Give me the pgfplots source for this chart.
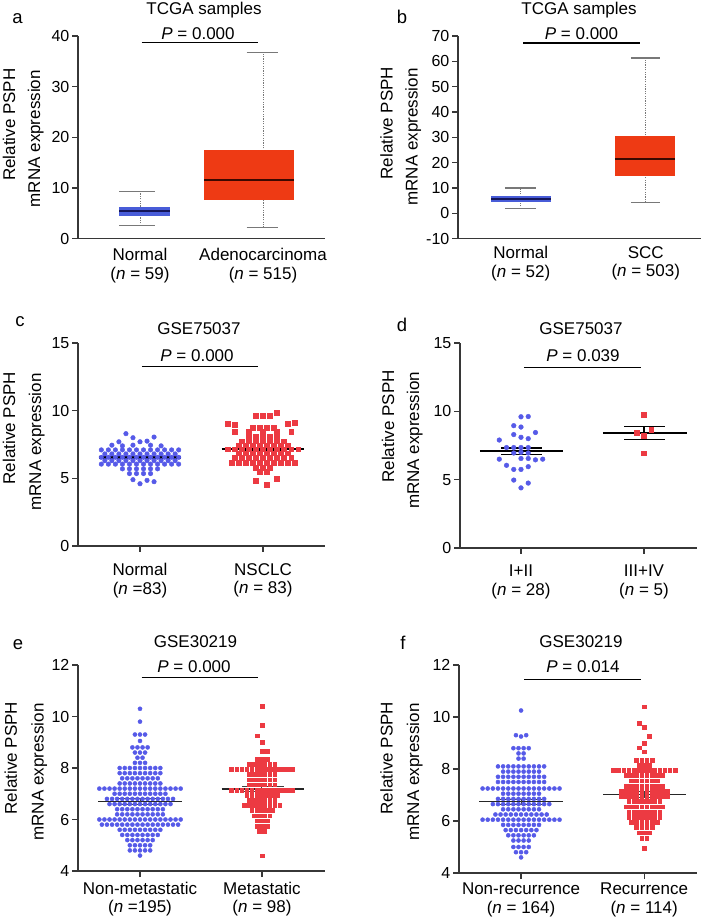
\documentclass[border=0pt]{standalone}
\usepackage{fontspec}
\setmainfont{Liberation Sans}
\usepackage{pgfplots}
\pgfplotsset{compat=1.18}
\definecolor{ptblue}{RGB}{86,90,232}
\definecolor{ptred}{RGB}{236,58,66}
\definecolor{boxblue}{RGB}{72,92,216}
\definecolor{boxred}{RGB}{238,58,20}
\definecolor{medblue}{RGB}{20,22,90}
\definecolor{medred}{RGB}{60,8,0}
\definecolor{axgray}{RGB}{55,55,55}
\definecolor{whgray}{RGB}{120,120,120}
\newcommand\labfont{\fontsize{17}{18.5}\selectfont}
\newcommand\tickfont{\fontsize{16}{18}\selectfont}
\newcommand\letfont{\fontsize{18.5}{20}\selectfont}
\pgfplotsset{
  panel/.style={
    scale only axis,
    anchor=south west,
    axis x line*=bottom,
    axis y line*=left,
    axis line style={line width=1.3pt, draw=axgray, -},
    tick style={line width=1.2pt, draw=axgray},
    tick align=outside,
    major tick length=6pt,
    yticklabel style={font=\tickfont, inner sep=2.5pt},
    xticklabel style={font=\labfont, align=center, inner sep=0pt, anchor=north},
    /pgf/number format/assume math mode=true,
    clip=false,
  },
  bci/.style={only marks, color=ptblue, mark=*, mark size=#1, mark options={solid, fill=ptblue, draw=none}},
  rsq/.style={only marks, color=ptred, mark=square*, mark size=#1, mark options={solid, fill=ptred, draw=none}},
}
\begin{document}
\begin{tikzpicture}[x=1pt,y=1pt]
\path[use as bounding box] (0,0) rectangle (709,917);

% ---------------- panel a ----------------
\begin{axis}[panel, at={(78pt,678.3pt)}, width=247pt, height=202.7pt,
  xmin=-0.504, xmax=1.504, ymin=0, ymax=40, ytick={0,10,20,30,40},
  xtick={0,1}, x tick style={draw=none},
  xticklabels={Normal\\(\textit{n} = 59), Adenocarcinoma\\(\textit{n} = 515)},
  xticklabel style={yshift=-3.6pt}]
\addplot[whgray, line width=0.9pt, dash pattern=on 1.2pt off 1.2pt] coordinates {(0,2.56) (0,9.4)};
\addplot[whgray, line width=1.1pt] coordinates {(-0.168,9.4) (0.122,9.4)};
\addplot[whgray, line width=1.1pt] coordinates {(-0.168,2.56) (0.122,2.56)};
\addplot[fill=boxblue, draw=none] coordinates {(-0.168,4.55) (0.244,4.55) (0.244,6.3) (-0.168,6.3)} --cycle;
\addplot[medblue, line width=2pt] coordinates {(-0.168,5.4) (0.244,5.4)};
\addplot[whgray, line width=0.9pt, dash pattern=on 1.2pt off 1.2pt] coordinates {(1,2.2) (1,36.8)};
\addplot[whgray, line width=1.1pt] coordinates {(0.867,36.8) (1.124,36.8)};
\addplot[whgray, line width=1.1pt] coordinates {(0.867,2.2) (1.124,2.2)};
\addplot[fill=boxred, draw=none] coordinates {(0.520,7.63) (1.252,7.63) (1.252,17.5) (0.520,17.5)} --cycle;
\addplot[medred, line width=2pt] coordinates {(0.520,11.6) (1.252,11.6)};
\addplot[black, line width=1.8pt] coordinates {(0.014,38.7) (0.962,38.7)};
\end{axis}

% ---------------- panel b ----------------
\begin{axis}[panel, at={(458pt,678.3pt)}, width=243pt, height=202.7pt,
  xmin=-0.502, xmax=1.442, ymin=-10, ymax=70, ytick={-10,0,10,20,30,40,50,60,70},
  xtick={0,1}, x tick style={draw=none},
  xticklabels={Normal\\(\textit{n} = 52), SCC\\(\textit{n} = 503)},
  xticklabel style={yshift=-1.7pt}]
\addplot[whgray, line width=0.9pt, dash pattern=on 1.2pt off 1.2pt] coordinates {(0,1.8) (0,10.0)};
\addplot[whgray, line width=1.1pt] coordinates {(-0.128,10.0) (0.12,10.0)};
\addplot[whgray, line width=1.1pt] coordinates {(-0.128,1.8) (0.12,1.8)};
\addplot[fill=boxblue, draw=none] coordinates {(-0.235,4.45) (0.24,4.45) (0.24,6.7) (-0.235,6.7)} --cycle;
\addplot[medblue, line width=2pt] coordinates {(-0.235,5.6) (0.24,5.6)};
\addplot[whgray, line width=0.9pt, dash pattern=on 1.2pt off 1.2pt] coordinates {(1,4.3) (1,61.3)};
\addplot[whgray, line width=1.1pt] coordinates {(0.88,61.3) (1.114,61.3)};
\addplot[whgray, line width=1.1pt] coordinates {(0.88,4.3) (1.114,4.3)};
\addplot[fill=boxred, draw=none] coordinates {(0.752,14.6) (1.232,14.6) (1.232,30.6) (0.752,30.6)} --cycle;
\addplot[medred, line width=2pt] coordinates {(0.752,21.5) (1.232,21.5)};
\addplot[black, line width=1.8pt] coordinates {(0.02,67.36) (0.954,67.36)};
\end{axis}

% ---------------- panel c ----------------
\begin{axis}[panel, at={(78pt,371pt)}, width=247pt, height=203pt,
  xmin=-8.82, xmax=26.32, ymin=0, ymax=15, ytick={0,5,10,15},
  xtick={0,17.5},
  xticklabels={Normal\\(\textit{n} =83), NSCLC\\(\textit{n} = 83)},
  xticklabel style={yshift=-11pt}]
\addplot[bci=2.3pt] coordinates {
(-2,8.3) (-1,8.0) (2,8.05) (-3,7.7) (0,7.7) (1,7.75)
(-4,7.45) (-2.5,7.4) (-1,7.45) (1.5,7.45) (3,7.4)
(-5.5,7.1) (-4.5,7.1) (-3.5,7.1) (-2.5,7.1) (-1.5,7.1) (-0.5,7.1) (0.5,7.1) (1.5,7.1) (2.5,7.1) (3.5,7.1) (4.5,7.1) (5.5,7.1)
(-5,6.8) (-4,6.8) (-3,6.8) (-2,6.8) (-1,6.8) (0,6.8) (1,6.8) (2,6.8) (3,6.8) (4,6.8) (5,6.8)
(-5.5,6.55) (-4.5,6.55) (-3.5,6.55) (-2.5,6.55) (-1.5,6.55) (-0.5,6.55) (0.5,6.55) (1.5,6.55) (2.5,6.55) (3.5,6.55) (4.5,6.55) (5.5,6.55)
(-5,6.3) (-4,6.3) (-3,6.3) (-2,6.3) (-1,6.3) (0,6.3) (1,6.3) (2,6.3) (3,6.3) (4,6.3) (5,6.3)
(-5.5,6.05) (-4.5,6.05) (-3.5,6.05) (-2.5,6.05) (-1.5,6.05) (-0.5,6.05) (0.5,6.05) (1.5,6.05) (2.5,6.05) (3.5,6.05) (4.5,6.05) (5.5,6.05)
(-2.5,5.7) (-1.5,5.7) (-0.5,5.7) (0.5,5.7) (1.5,5.7) (2.5,5.7)
(-1.5,5.35) (-0.5,5.35) (0.5,5.35) (1.5,5.35)
(-1,4.9) (1,4.85) (0,4.6) (2,4.75)
};
\addplot[rsq=2.4pt] coordinates {
(19.5,9.85) (16.5,9.6) (17.5,9.6) (18.5,9.6)
(12.5,9.05) (13.5,8.95) (21,9.05) (22,9.1)
(16,8.75) (17,8.75) (18,8.75) (19,8.75)
(13.5,8.45) (15.5,8.45) (17.5,8.45) (19.5,8.45) (21.5,8.45)
(15.5,8.1) (16.5,8.1) (17.5,8.1) (18.5,8.1) (19.5,8.1)
(14.5,7.75) (15.5,7.75) (16.5,7.75) (17.5,7.75) (18.5,7.75) (19.5,7.75) (20.5,7.75)
(14,7.45) (15,7.45) (16,7.45) (17,7.45) (18,7.45) (19,7.45) (20,7.45) (21,7.45)
(12.5,7.15) (13.5,7.15) (14.5,7.15) (15.5,7.15) (16.5,7.15) (17.5,7.15) (18.5,7.15) (19.5,7.15) (20.5,7.15) (21.5,7.15) (22.5,7.15)
(14,6.85) (15,6.85) (16,6.85) (17,6.85) (18,6.85) (19,6.85) (20,6.85) (21,6.85)
(13.5,6.55) (14.5,6.55) (15.5,6.55) (16.5,6.55) (17.5,6.55) (18.5,6.55) (19.5,6.55) (20.5,6.55) (21.5,6.55)
(13,6.15) (14,6.15) (15,6.15) (16,6.15) (17,6.15) (18,6.15) (19,6.15) (20,6.15) (21,6.15) (22,6.15)
(16.5,5.8) (17.5,5.8) (18.5,5.8) (17,5.5) (18,5.5)
(16.5,4.85) (19.5,5.0) (18,4.55)
};
\addplot[black, line width=2.4pt] coordinates {(-5.9,6.55) (5.9,6.55)};
\addplot[black, line width=1.1pt] coordinates {(-2.9,6.62) (2.9,6.62)};
\addplot[black, line width=1.1pt] coordinates {(-2.9,6.48) (2.9,6.48)};
\addplot[black, line width=2.4pt] coordinates {(11.6,7.15) (23.4,7.15)};
\addplot[black, line width=1.1pt] coordinates {(14.6,7.28) (20.4,7.28)};
\addplot[black, line width=1.1pt] coordinates {(14.6,7.02) (20.4,7.02)};
\addplot[black, line width=1.1pt] coordinates {(17.5,7.02) (17.5,7.28)};
\addplot[black, line width=1.3pt] coordinates {(0.28,13.25) (16.8,13.25)};
\end{axis}

% ---------------- panel d ----------------
\begin{axis}[panel, at={(460pt,369pt)}, width=237pt, height=205pt,
  xmin=-8.43, xmax=24.33, ymin=0, ymax=15, ytick={0,5,10,15},
  xtick={0,17},
  xticklabels={I+II\\(\textit{n} = 28), III+IV\\(\textit{n} = 5)},
  xticklabel style={yshift=-11pt}]
\addplot[bci=2.35pt] coordinates {
(0,9.6) (1,9.62) (-1,8.95) (0,8.85) (-1,8.3) (2,8.45) (0,8.1) (1,8.0) (-3,7.9)
(-2,7.35) (-1,7.35) (0,7.35) (1,7.35) (-1,6.95) (0,7.0) (1,6.95)
(-3,6.5) (0,6.55) (1,6.55) (2,6.45) (3,6.5)
(-2,6.05) (1,5.95) (-1,5.75) (0,5.75) (-1,4.97) (1,4.75) (0,4.4)
};
\addplot[rsq=2.4pt] coordinates {(17,9.78) (18,8.68) (16,8.43) (17,8.19) (17,6.93)};
\addplot[black, line width=2.4pt] coordinates {(-5.67,7.1) (5.8,7.1)};
\addplot[black, line width=1.1pt] coordinates {(-2.76,7.32) (2.9,7.32)};
\addplot[black, line width=1.1pt] coordinates {(-2.76,6.83) (2.9,6.83)};
\addplot[black, line width=1.1pt] coordinates {(0,6.83) (0,7.32)};
\addplot[black, line width=2.4pt] coordinates {(11.33,8.43) (22.94,8.43)};
\addplot[black, line width=1.1pt] coordinates {(14.24,8.92) (19.9,8.92)};
\addplot[black, line width=1.1pt] coordinates {(14.24,7.97) (19.9,7.97)};
\addplot[black, line width=1.1pt] coordinates {(17,7.97) (17,8.92)};
\addplot[black, line width=1.3pt] coordinates {(0.41,13.22) (16.54,13.22)};
\end{axis}

% ---------------- panel e ----------------
\begin{axis}[panel, at={(78pt,46pt)}, width=247pt, height=206pt,
  xmin=-12.2, xmax=36.4, ymin=4, ymax=12, ytick={4,6,8,10,12},
  xtick={0,24},
  xticklabels={Non-metastatic\\(\textit{n} =195), Metastatic\\(\textit{n} = 98)},
  xticklabel style={yshift=-4.5pt}]
\addplot[bci=2.05pt] coordinates {
(0,10.3) (0,9.8) (-1,9.3) (0,9.3) (1,9.3) (0,9.05)
(-1.5,8.8) (-0.5,8.8) (0.5,8.8) (1.5,8.8)
(-1,8.6) (0,8.6) (1,8.6)
(-0.5,8.4) (0.5,8.4)
(-1,8.2) (0,8.2) (1,8.2)
(-4,8) (-3,8) (-2,8) (-1,8) (0,8) (1,8) (2,8) (3,8) (4,8)
(-4,7.8) (-3,7.8) (-2,7.8) (-1,7.8) (0,7.8) (1,7.8) (2,7.8) (3,7.8) (4,7.8)
(-3.5,7.6) (-2.5,7.6) (-1.5,7.6) (-0.5,7.6) (0.5,7.6) (1.5,7.6) (2.5,7.6) (3.5,7.6)
(-4,7.4) (-3,7.4) (-2,7.4) (-1,7.4) (0,7.4) (1,7.4) (2,7.4) (3,7.4) (4,7.4)
(-8,7.2) (-7,7.2) (-6,7.2) (-5,7.2) (-4,7.2) (-3,7.2) (-2,7.2) (-1,7.2) (0,7.2) (1,7.2) (2,7.2) (3,7.2) (4,7.2) (5,7.2) (6,7.2) (7,7.2) (8,7.2)
(-5,7) (-4,7) (-3,7) (-2,7) (-1,7) (0,7) (1,7) (2,7) (3,7) (4,7) (5,7)
(-6.5,6.8) (-5.5,6.8) (-4.5,6.8) (-3.5,6.8) (-2.5,6.8) (-1.5,6.8) (-0.5,6.8) (0.5,6.8) (1.5,6.8) (2.5,6.8) (3.5,6.8) (4.5,6.8) (5.5,6.8) (6.5,6.8)
(-6,6.6) (-5,6.6) (-4,6.6) (-3,6.6) (-2,6.6) (-1,6.6) (0,6.6) (1,6.6) (2,6.6) (3,6.6) (4,6.6) (5,6.6) (6,6.6)
(-4.5,6.4) (-3.5,6.4) (-2.5,6.4) (-1.5,6.4) (-0.5,6.4) (0.5,6.4) (1.5,6.4) (2.5,6.4) (3.5,6.4) (4.5,6.4)
(-4.5,6.2) (-3.5,6.2) (-2.5,6.2) (-1.5,6.2) (-0.5,6.2) (0.5,6.2) (1.5,6.2) (2.5,6.2) (3.5,6.2) (4.5,6.2)
(-8,6) (-7,6) (-6,6) (-5,6) (-4,6) (-3,6) (-2,6) (-1,6) (0,6) (1,6) (2,6) (3,6) (4,6) (5,6) (6,6) (7,6) (8,6)
(-7.5,5.8) (-6.5,5.8) (-5.5,5.8) (-4.5,5.8) (-3.5,5.8) (-2.5,5.8) (-1.5,5.8) (-0.5,5.8) (0.5,5.8) (1.5,5.8) (2.5,5.8) (3.5,5.8) (4.5,5.8) (5.5,5.8) (6.5,5.8) (7.5,5.8)
(-4,5.6) (-3,5.6) (-2,5.6) (-1,5.6) (0,5.6) (1,5.6) (2,5.6) (3,5.6) (4,5.6)
(-3.5,5.4) (-2.5,5.4) (-1.5,5.4) (-0.5,5.4) (0.5,5.4) (1.5,5.4) (2.5,5.4) (3.5,5.4)
(-2.5,5.2) (-1.5,5.2) (-0.5,5.2) (0.5,5.2) (1.5,5.2) (2.5,5.2)
(-2,5) (-1,5) (0,5) (1,5) (2,5)
(-2,4.8) (-1,4.8) (0,4.8) (1,4.8) (2,4.8)
(0,4.6)
};
\addplot[rsq=1.85pt] coordinates {
(24,10.4) (24,9.65) (23,9.25) (24,9.0) (24,8.65) (25,8.65)
(23,8.35) (24,8.35) (25,8.35)
(21.5,8.15) (22.5,8.15) (23.5,8.15) (24.5,8.15) (25.5,8.15) (26.5,8.15)
(18,7.95) (19,7.95) (20,7.95) (21,7.95) (22,7.95) (23,7.95) (24,7.95) (25,7.95) (26,7.95) (27,7.95) (28,7.95) (29,7.95) (30,7.95)
(21.5,7.75) (22.5,7.75) (23.5,7.75) (24.5,7.75) (25.5,7.75) (26.5,7.75)
(21.5,7.55) (22.5,7.55) (23.5,7.55) (24.5,7.55) (25.5,7.55) (26.5,7.55)
(21.5,7.35) (22.5,7.35) (23.5,7.35) (24.5,7.35) (25.5,7.35) (26.5,7.35)
(18,7.15) (19,7.15) (20,7.15) (21,7.15) (22,7.15) (23,7.15) (24,7.15) (25,7.15) (26,7.15) (27,7.15) (28,7.15) (29,7.15) (30,7.15)
(21,6.95) (22,6.95) (23,6.95) (24,6.95) (25,6.95) (26,6.95) (27,6.95)
(21.5,6.75) (22.5,6.75) (23.5,6.75) (24.5,6.75) (25.5,6.75) (26.5,6.75)
(20.5,6.55) (21.5,6.55) (22.5,6.55) (23.5,6.55) (24.5,6.55) (25.5,6.55) (26.5,6.55) (27.5,6.55)
(22,6.35) (23,6.35) (24,6.35) (25,6.35) (26,6.35)
(22.5,6.15) (23.5,6.15) (24.5,6.15) (25.5,6.15)
(23,5.95) (24,5.95) (25,5.95)
(23,5.75) (24,5.75) (25,5.75)
(23.5,5.55) (24.5,5.55)
(24,4.6)
};
\addplot[black!85, line width=1.4pt] coordinates {(-8.2,6.69) (8.2,6.69)};
\addplot[black!75, line width=1pt] coordinates {(-4.1,6.80) (4.1,6.80)};
\addplot[black!75, line width=1pt] coordinates {(-4.1,6.59) (4.1,6.59)};
\addplot[black!75, line width=1pt] coordinates {(0,6.59) (0,6.80)};
\addplot[black!85, line width=1.4pt] coordinates {(16.07,7.18) (32.3,7.18)};
\addplot[black!75, line width=1pt] coordinates {(20.07,7.30) (28.3,7.30)};
\addplot[black!75, line width=1pt] coordinates {(20.07,7.08) (28.3,7.08)};
\addplot[black!75, line width=1pt] coordinates {(24,7.08) (24,7.30)};
\addplot[black, line width=1.3pt] coordinates {(0.33,11.52) (23.27,11.52)};
\end{axis}

% ---------------- panel f ----------------
\begin{axis}[panel, at={(459pt,44pt)}, width=238pt, height=208pt,
  xmin=-12.1, xmax=34.3, ymin=4, ymax=12, ytick={4,6,8,10,12},
  xtick={0,24},
  xticklabels={Non-recurrence\\(\textit{n} = 164), Recurrence\\(\textit{n} = 114)},
  xticklabel style={yshift=-4pt}]
\addplot[bci=2.05pt] coordinates {
(0,10.25) (-1,9.3) (0,9.25) (1,9.3)
(-1.5,8.8) (-0.5,8.8) (0.5,8.8) (1.5,8.8)
(-0.5,8.6) (0.5,8.6) (-0.5,8.4) (0.5,8.4)
(-4.5,8.1) (-3.5,8.1) (-2.5,8.1) (-1.5,8.1) (-0.5,8.1) (0.5,8.1) (1.5,8.1) (2.5,8.1) (3.5,8.1) (4.5,8.1)
(-3.5,7.9) (-2.5,7.9) (-1.5,7.9) (-0.5,7.9) (0.5,7.9) (1.5,7.9) (2.5,7.9) (3.5,7.9)
(-4.5,7.7) (-3.5,7.7) (-2.5,7.7) (-1.5,7.7) (-0.5,7.7) (0.5,7.7) (1.5,7.7) (2.5,7.7) (3.5,7.7) (4.5,7.7)
(-4.5,7.5) (-3.5,7.5) (-2.5,7.5) (-1.5,7.5) (-0.5,7.5) (0.5,7.5) (1.5,7.5) (2.5,7.5) (3.5,7.5) (4.5,7.5)
(-7.5,7.25) (-6.5,7.25) (-5.5,7.25) (-4.5,7.25) (-3.5,7.25) (-2.5,7.25) (-1.5,7.25) (-0.5,7.25) (0.5,7.25) (1.5,7.25) (2.5,7.25) (3.5,7.25) (4.5,7.25) (5.5,7.25) (6.5,7.25) (7.5,7.25)
(-3.5,7.05) (-2.5,7.05) (-1.5,7.05) (-0.5,7.05) (0.5,7.05) (1.5,7.05) (2.5,7.05) (3.5,7.05)
(-4.5,6.85) (-3.5,6.85) (-2.5,6.85) (-1.5,6.85) (-0.5,6.85) (0.5,6.85) (1.5,6.85) (2.5,6.85) (3.5,6.85) (4.5,6.85)
(-5.5,6.65) (-4.5,6.65) (-3.5,6.65) (-2.5,6.65) (-1.5,6.65) (-0.5,6.65) (0.5,6.65) (1.5,6.65) (2.5,6.65) (3.5,6.65) (4.5,6.65) (5.5,6.65)
(-3.5,6.45) (-2.5,6.45) (-1.5,6.45) (-0.5,6.45) (0.5,6.45) (1.5,6.45) (2.5,6.45) (3.5,6.45)
(-5,6.25) (-4,6.25) (-3,6.25) (-2,6.25) (-1,6.25) (0,6.25) (1,6.25) (2,6.25) (3,6.25) (4,6.25) (5,6.25)
(-7.5,6.05) (-6.5,6.05) (-5.5,6.05) (-4.5,6.05) (-3.5,6.05) (-2.5,6.05) (-1.5,6.05) (-0.5,6.05) (0.5,6.05) (1.5,6.05) (2.5,6.05) (3.5,6.05) (4.5,6.05) (5.5,6.05) (6.5,6.05) (7.5,6.05)
(-3.5,5.85) (-2.5,5.85) (-1.5,5.85) (-0.5,5.85) (0.5,5.85) (1.5,5.85) (2.5,5.85) (3.5,5.85)
(-3,5.65) (-2,5.65) (-1,5.65) (0,5.65) (1,5.65) (2,5.65) (3,5.65)
(-2.5,5.45) (-1.5,5.45) (-0.5,5.45) (0.5,5.45) (1.5,5.45) (2.5,5.45)
(-1.5,5.25) (-0.5,5.25) (0.5,5.25) (1.5,5.25)
(-1.5,5.0) (-0.5,5.0) (0.5,5.0) (1.5,5.0)
(-1,4.8) (0,4.8) (1,4.8)
(0,4.6)
};
\addplot[rsq=1.85pt] coordinates {
(24,10.4) (23,9.75) (24,9.62) (25,9.25) (24,9.0) (23,8.82) (24,8.67)
(22.5,8.35) (23.5,8.35) (24.5,8.35) (25.5,8.35)
(23,8.15) (24,8.15) (25,8.15)
(18,7.95) (19,7.95) (20,7.95) (21,7.95) (22,7.95) (23,7.95) (24,7.95) (25,7.95) (26,7.95) (27,7.95) (28,7.95) (29,7.95) (30,7.95)
(20.5,7.75) (21.5,7.75) (22.5,7.75) (23.5,7.75) (24.5,7.75) (25.5,7.75) (26.5,7.75) (27.5,7.75)
(21.5,7.55) (22.5,7.55) (23.5,7.55) (24.5,7.55) (25.5,7.55) (26.5,7.55)
(20.5,7.35) (21.5,7.35) (22.5,7.35) (23.5,7.35) (24.5,7.35) (25.5,7.35) (26.5,7.35) (27.5,7.35)
(19.5,7.15) (20.5,7.15) (21.5,7.15) (22.5,7.15) (23.5,7.15) (24.5,7.15) (25.5,7.15) (26.5,7.15) (27.5,7.15) (28.5,7.15)
(19.5,6.95) (20.5,6.95) (21.5,6.95) (22.5,6.95) (23.5,6.95) (24.5,6.95) (25.5,6.95) (26.5,6.95) (27.5,6.95) (28.5,6.95)
(21,6.75) (22,6.75) (23,6.75) (24,6.75) (25,6.75) (26,6.75) (27,6.75)
(20.5,6.55) (21.5,6.55) (22.5,6.55) (23.5,6.55) (24.5,6.55) (25.5,6.55) (26.5,6.55) (27.5,6.55)
(21,6.35) (22,6.35) (23,6.35) (24,6.35) (25,6.35) (26,6.35) (27,6.35)
(21,6.15) (22,6.15) (23,6.15) (24,6.15) (25,6.15) (26,6.15) (27,6.15)
(21.5,5.95) (22.5,5.95) (23.5,5.95) (24.5,5.95) (25.5,5.95) (26.5,5.95)
(22.5,5.75) (23.5,5.75) (24.5,5.75) (25.5,5.75)
(23,5.55) (24,5.55) (25,5.55)
(23.5,5.35) (24.5,5.35)
(24,4.95)
};
\addplot[black!85, line width=1.4pt] coordinates {(-8.2,6.74) (8.2,6.74)};
\addplot[black!75, line width=1pt] coordinates {(-4.1,6.84) (4.1,6.84)};
\addplot[black!75, line width=1pt] coordinates {(-4.1,6.65) (4.1,6.65)};
\addplot[black!75, line width=1pt] coordinates {(0,6.65) (0,6.84)};
\addplot[black!85, line width=1.4pt] coordinates {(16.06,7.03) (32.1,7.03)};
\addplot[black!75, line width=1pt] coordinates {(20.2,7.13) (28.1,7.13)};
\addplot[black!75, line width=1pt] coordinates {(20.2,6.92) (28.1,6.92)};
\addplot[black!75, line width=1pt] coordinates {(24,6.92) (24,7.13)};
\addplot[black, line width=1.3pt] coordinates {(0.59,11.45) (23.36,11.45)};
\end{axis}

% ---------------- texts ----------------
\begin{scope}[every node/.style={inner sep=0pt, font=\labfont}]
\node[anchor=base] at (204,902) {TCGA samples};
\node[anchor=base] at (579,902) {TCGA samples};
\node[anchor=base] at (199,582.7) {GSE75037};
\node[anchor=base] at (581,582.7) {GSE75037};
\node[anchor=base] at (195.5,269.3) {GSE30219};
\node[anchor=base] at (581,269.3) {GSE30219};
\node[anchor=base] at (198,877.7) {\textit{P} = 0.000};
\node[anchor=base] at (581.5,877.7) {\textit{P} = 0.000};
\node[anchor=base] at (197,555.3) {\textit{P} = 0.000};
\node[anchor=base] at (583,555.3) {\textit{P} = 0.039};
\node[anchor=base] at (194,244.3) {\textit{P} = 0.000};
\node[anchor=base] at (583,244.3) {\textit{P} = 0.014};
\node[anchor=base, font=\letfont] at (17.5,893.7) {a};
\node[anchor=base, font=\letfont] at (402,893.7) {b};
\node[anchor=base, font=\letfont] at (20,590.3) {c};
\node[anchor=base, font=\letfont] at (402,585.3) {d};
\node[anchor=base, font=\letfont] at (18,267) {e};
\node[anchor=base, font=\letfont] at (403,267) {f};
\node[rotate=90, anchor=base east] at (15,848.7) {Relative PSPH};
\node[rotate=90, anchor=base east] at (40,847) {mRNA expression};
\node[rotate=90, anchor=base east] at (392.5,850.3) {Relative PSPH};
\node[rotate=90, anchor=base east] at (417.5,848.7) {mRNA expression};
\node[rotate=90, anchor=base east] at (15.1,545.3) {Relative PSPH};
\node[rotate=90, anchor=base east] at (41.1,543.7) {mRNA expression};
\node[rotate=90, anchor=base east] at (394.1,547) {Relative PSPH};
\node[rotate=90, anchor=base east] at (419.1,545.3) {mRNA expression};
\node[rotate=90, anchor=base east] at (16.8,215.3) {Relative PSPH};
\node[rotate=90, anchor=base east] at (43.5,213.7) {mRNA expression};
\node[rotate=90, anchor=base east] at (392.5,215.3) {Relative PSPH};
\node[rotate=90, anchor=base east] at (419.1,213.7) {mRNA expression};
\end{scope}
\end{tikzpicture}
\end{document}
